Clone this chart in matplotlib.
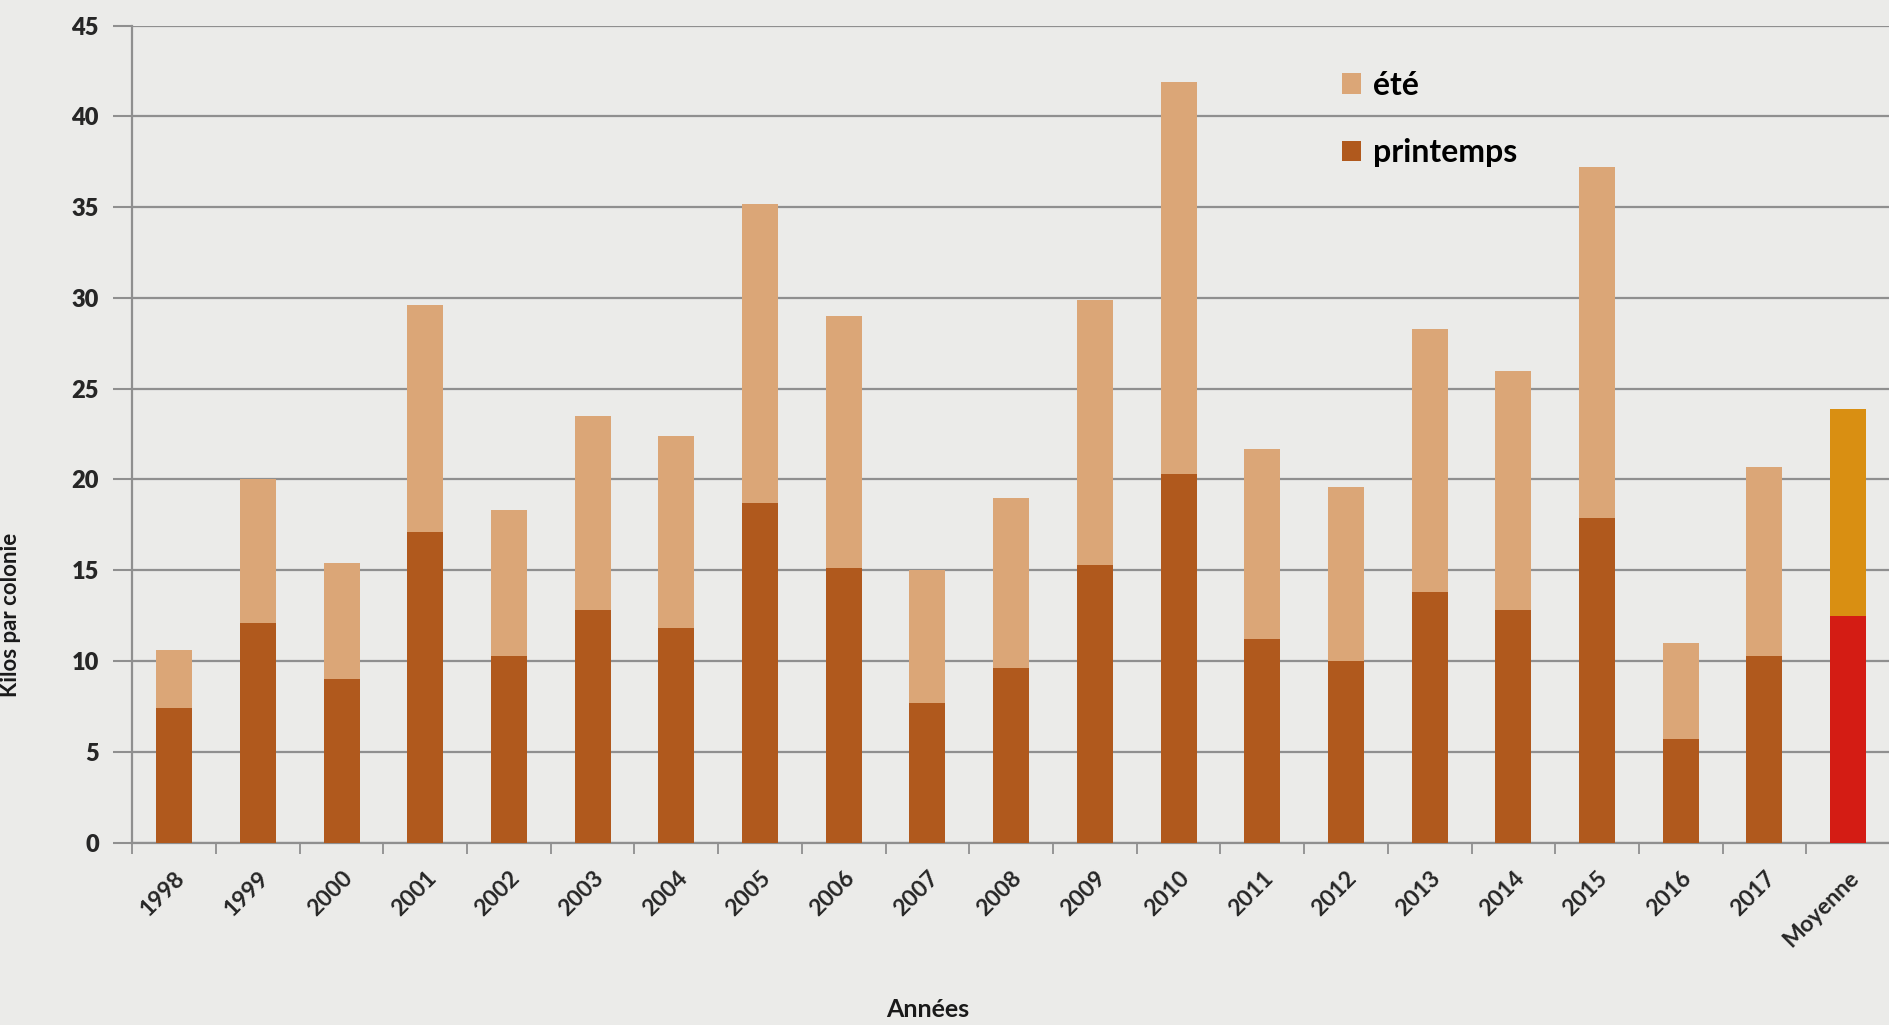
import matplotlib.pyplot as plt
import numpy as np

# Récolte par colonie (kg)
annees = ['1998', '1999', '2000', '2001', '2002', '2003', '2004', '2005', '2006', '2007',
          '2008', '2009', '2010', '2011', '2012', '2013', '2014', '2015', '2016', '2017',
          'Moyenne']
printemps = [7.4, 12.1, 9.0, 17.1, 10.3, 12.8, 11.8, 18.7, 15.1, 7.7,
             9.6, 15.3, 20.3, 11.2, 10.0, 13.8, 12.8, 17.9, 5.7, 10.3,
             12.5]
total = [10.6, 20.0, 15.4, 29.6, 18.3, 23.5, 22.4, 35.2, 29.0, 15.0,
         19.0, 29.9, 41.9, 21.7, 19.6, 28.3, 26.0, 37.2, 11.0, 20.7,
         23.9]
ete = [t - p for t, p in zip(total, printemps)]

c_printemps = '#b0591d'
c_ete = '#dba677'
c_moy_bas = '#d41c14'
c_moy_haut = '#d98f12'

plt.rcParams['font.family'] = ['Lato', 'DejaVu Sans']

fig = plt.figure(figsize=(18.9, 10.25), dpi=100)
fig.patch.set_facecolor('#ebebe9')
ax = fig.add_axes([0.070, 0.178, 0.930, 0.797])
ax.set_facecolor('#ebebe9')

x = np.arange(len(annees))
n = len(annees) - 1
col_bas = [c_printemps] * n + [c_moy_bas]
col_haut = [c_ete] * n + [c_moy_haut]

ax.bar(x, printemps, width=0.43, color=col_bas, zorder=3)
ax.bar(x, ete, bottom=printemps, width=0.43, color=col_haut, zorder=3)

ax.set_xlim(-0.5, len(annees) - 0.5)
ax.set_ylim(0, 45)
ax.set_yticks(range(0, 46, 5))
ax.yaxis.grid(True, color='#8f8f8f', linewidth=1.6, zorder=0)
ax.tick_params(axis='y', length=14, width=1.5, color='#8f8f8f', labelsize=17, pad=10)
for lab in ax.get_yticklabels():
    lab.set_fontweight('heavy')
    lab.set_color('#262626')

ax.set_xticks(x)
ax.set_xticklabels(annees, rotation=45, ha='right', rotation_mode='anchor',
                   fontsize=16.5, fontweight='bold', color='#262626')
ax.tick_params(axis='x', length=0, pad=18)
ax.set_xticks(np.arange(-0.5, len(annees), 1.0), minor=True)
ax.tick_params(axis='x', which='minor', length=8, width=1.3, color='#8f8f8f')

for s in ['top', 'right']:
    ax.spines[s].set_visible(False)
for s in ['left', 'bottom']:
    ax.spines[s].set_color('#8f8f8f')
    ax.spines[s].set_linewidth(1.6)

# Légende
ax.bar(0, 0, color=c_ete, label='été')
ax.bar(0, 0, color=c_printemps, label='printemps')
ax.legend(loc='upper left', bbox_to_anchor=(0.672, 0.98), frameon=False,
          handlelength=0.6, handleheight=0.6, labelspacing=1.2,
          handletextpad=0.35, prop={'weight': 'bold', 'size': 23})

fig.text(0.491, 0.008, 'Années', fontsize=18, fontweight='bold', ha='center', color='#1a1a1a')
fig.text(0.0, 0.40, 'Kilos par colonie', fontsize=16, fontweight='bold', rotation=90,
         ha='left', va='center', color='#1a1a1a')

plt.savefig('out.png', dpi=100, facecolor=fig.get_facecolor())
